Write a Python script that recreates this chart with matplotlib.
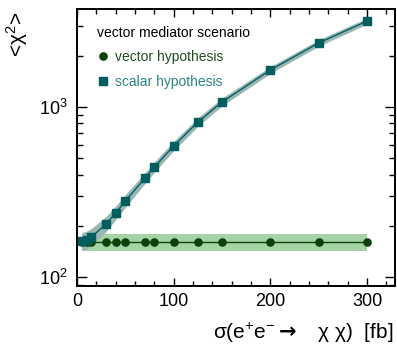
import matplotlib
matplotlib.use("Agg")
import matplotlib.pyplot as plt
from matplotlib.lines import Line2D
from matplotlib.ticker import MultipleLocator, LogLocator, NullFormatter

# ---------------- data ----------------
xsec = [5, 10, 15, 30, 40, 50, 70, 80, 100, 125, 150, 200, 250, 300]

vector_chi2 = [160, 160, 160, 160, 160, 160, 160, 160, 160, 160, 160, 160, 160, 160]
vector_lo = [142] * 14
vector_hi = [179] * 14

scalar_chi2 = [162, 165, 172, 205, 238, 280, 380, 443, 590, 815, 1070, 1650, 2380, 3200]
scalar_lo = [143, 146, 153, 185, 217, 257, 353, 413, 553, 769, 1015, 1576, 2278, 3070]
scalar_hi = [183, 186, 193, 227, 261, 305, 409, 475, 629, 863, 1128, 1728, 2486, 3335]

legend_title = "vector mediator scenario"
labels = ["vector hypothesis", "scalar hypothesis"]

# ---------------- style ----------------
plt.rcParams["font.family"] = ["Liberation Sans", "DejaVu Sans"]
plt.rcParams["mathtext.default"] = "regular"

c_vec = "#0a420a"
c_vec_band = "#a6d3a6"
c_vec_text = "#1f4f1f"
c_sca = "#005e5e"
c_sca_band = "#9ab6b4"
c_sca_text = "#2a8585"

fig = plt.figure(figsize=(3.97, 3.44), dpi=100)
ax = fig.add_axes([77 / 397, 1 - 286 / 344, (395 - 77) / 397, (286 - 9) / 344])

ax.fill_between(xsec, vector_lo, vector_hi, color=c_vec_band, lw=0, zorder=1)
ax.fill_between(xsec, scalar_lo, scalar_hi, color=c_sca_band, lw=0, zorder=2)
ax.plot(xsec, vector_chi2, color=c_vec, lw=1.0, marker="o", ms=5.2, zorder=3)
ax.plot(xsec, scalar_chi2, color=c_sca, lw=1.0, marker="s", ms=5.2, zorder=4)

ax.set_yscale("log")
ax.set_xlim(0, 329)
ax.set_ylim(88.5, 3770)

ax.xaxis.set_major_locator(MultipleLocator(100))
ax.xaxis.set_minor_locator(MultipleLocator(20))
ax.yaxis.set_major_locator(LogLocator(base=10))
ax.yaxis.set_minor_locator(LogLocator(base=10, subs=range(2, 10)))
ax.yaxis.set_minor_formatter(NullFormatter())

for s in ax.spines.values():
    s.set_linewidth(1.4)
ax.tick_params(which="both", direction="in", top=True, right=True, width=1.0,
               labelsize=13)
ax.tick_params(axis="x", which="major", length=6, pad=5)
ax.tick_params(axis="x", which="minor", length=3.5)
ax.tick_params(axis="y", which="major", length=7.5, pad=7)
ax.tick_params(axis="y", which="minor", length=4)

fig.text(17 / 397, 1 - 12 / 344, "<χ$^{2}$>", rotation=90, ha="center", va="top",
         fontsize=15)
fig.text(393 / 397, 1 - 333 / 344,
         r"σ(e$^{+}$e$^{-}$$\mathbf{\rightarrow}$   χ χ)  [fb]", ha="right",
         va="center", fontsize=15)

handles = [
    Line2D([], [], color=c_vec, marker="o", ls="none", ms=5.2),
    Line2D([], [], color=c_sca, marker="s", ls="none", ms=5.2),
]
leg = ax.legend(handles, labels, title=legend_title, loc="upper left",
                bbox_to_anchor=(20 / 318, 1 - 17 / 277), frameon=False,
                fontsize=10, title_fontsize=10, handlelength=0.8,
                handletextpad=0.5, labelspacing=0.78, borderpad=0,
                borderaxespad=0, labelcolor=[c_vec_text, c_sca_text],
                alignment="left")
leg._legend_box.sep = 7

fig.savefig("out.png", dpi=100)
